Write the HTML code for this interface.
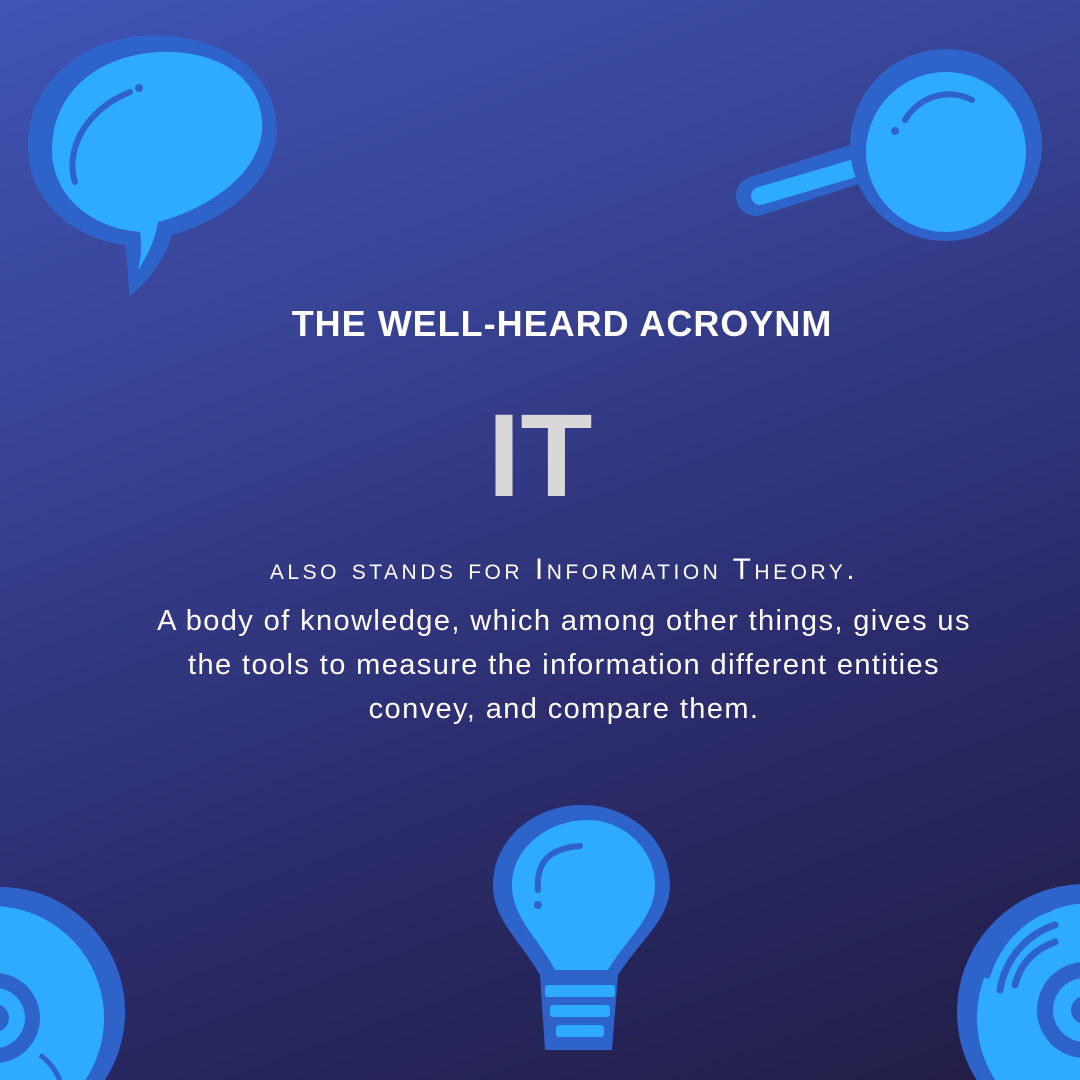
<!DOCTYPE html>
<html><head><meta charset="utf-8">
<style>
html,body{margin:0;padding:0;width:1080px;height:1080px;overflow:hidden}
body{position:relative;
background:linear-gradient(160deg,#4054b4 0%,#36408f 35%,#2b2c6c 65%,#211d45 100%);
font-family:"Liberation Sans",sans-serif;color:#fff}
svg.bg{position:absolute;left:0;top:0;overflow:hidden;display:block}
.t{position:absolute;left:0;width:1080px;box-sizing:border-box;text-align:center;white-space:nowrap}
</style></head><body>
<svg class="bg" width="1080" height="1080" viewBox="0 0 1080 1080">
 <g>
  <path d="M130,296 C150,280 165,258 172,235 C240,215 282,170 276,120 C270,65 215,35 150,35 C75,38 25,90 28,150 C30,200 70,238 125,245 C128,265 128,282 130,296 Z" fill="#2e63c9"/>
  <path d="M138,270 C148,255 155,240 158,222 C220,205 266,165 262,120 C258,75 215,50 160,52 C95,55 52,95 52,150 C52,195 90,228 140,232 C142,245 141,258 138,270 Z" fill="#2eaaff"/>
  <path d="M75,182 C65,150 85,110 130,92" stroke="#2e63c9" stroke-width="6" fill="none" stroke-linecap="round"/>
  <circle cx="139" cy="88" r="4" fill="#2e63c9"/>
 </g>
 <g>
  <line x1="756" y1="196" x2="862" y2="162" stroke="#2e63c9" stroke-width="40" stroke-linecap="round"/>
  <line x1="760" y1="196" x2="862" y2="166" stroke="#2eaaff" stroke-width="18" stroke-linecap="round"/>
  <circle cx="946" cy="145" r="96" fill="#2e63c9"/>
  <circle cx="946" cy="152" r="80" fill="#2eaaff"/>
  <path d="M905,120 C920,95 950,88 972,100" stroke="#2e63c9" stroke-width="6" fill="none" stroke-linecap="round"/>
  <circle cx="895" cy="131" r="4" fill="#2e63c9"/>
 </g>
 <g>
  <path d="M545,1050 L612,1050 L618,975 C640,940 670,920 670,885 C670,840 630,805 582,805 C533,805 493,840 493,885 C493,920 520,940 540,975 Z" fill="#2e63c9"/>
  <path d="M555,970 L608,970 C625,940 655,918 655,885 C655,848 622,820 588,820 C548,820 512,848 512,885 C512,918 540,940 555,970 Z" fill="#2eaaff"/>
  <rect x="545" y="985" width="70" height="12" rx="3" fill="#2eaaff"/>
  <rect x="550" y="1005" width="60" height="12" rx="3" fill="#2eaaff"/>
  <rect x="556" y="1025" width="48" height="12" rx="3" fill="#2eaaff"/>
  <path d="M538,890 C536,862 550,848 580,846" stroke="#2e63c9" stroke-width="6" fill="none" stroke-linecap="round"/>
  <circle cx="538" cy="905" r="4" fill="#2e63c9"/>
 </g>
 <g>
  <circle cx="0" cy="1012" r="125" fill="#2e63c9"/>
  <circle cx="-8" cy="1018" r="112" fill="#2eaaff"/>
  <circle cx="-5" cy="1018" r="45" fill="#2e63c9"/>
  <circle cx="-5" cy="1018" r="30" fill="#2eaaff"/>
  <circle cx="-5" cy="1018" r="14" fill="#2e63c9"/>
  <path d="M60,1080 C55,1070 50,1062 40,1055" stroke="#2e63c9" stroke-width="5" fill="none"/>
 </g>
 <g>
  <circle cx="1085" cy="1012" r="128" fill="#2e63c9"/>
  <circle cx="1092" cy="1018" r="115" fill="#2eaaff"/>
  <circle cx="1085" cy="1010" r="48" fill="#2e63c9"/>
  <circle cx="1085" cy="1010" r="32" fill="#2eaaff"/>
  <circle cx="1085" cy="1010" r="14" fill="#2e63c9"/>
  <path d="M1000,990 C1005,960 1025,935 1055,925" stroke="#2e63c9" stroke-width="7" fill="none" stroke-linecap="round"/>
  <path d="M1015,985 C1020,965 1033,950 1055,942" stroke="#2e63c9" stroke-width="7" fill="none" stroke-linecap="round"/>
  <path d="M987,975 C995,950 1015,920 1050,908" stroke="#2e63c9" stroke-width="7" fill="none" stroke-linecap="round"/>
 </g>
</svg>
<div class="t" style="top:303px;padding-left:44px;font-size:36px;font-weight:bold;letter-spacing:1px">THE WELL-HEARD ACROYNM</div>
<div class="t" style="top:388px;font-size:118px;font-weight:bold;color:#d8d8d8">IT</div>
<div class="t" style="top:553px;padding-left:48px;font-size:30px;font-variant:small-caps;letter-spacing:3.5px">also stands for Information Theory.</div>
<div class="t" style="top:599px;padding-left:48px;font-size:29px;line-height:44px;letter-spacing:1.4px">A body of knowledge, which among other things, gives us<br>the tools to measure the information different entities<br>convey, and compare them.</div>
</body></html>
